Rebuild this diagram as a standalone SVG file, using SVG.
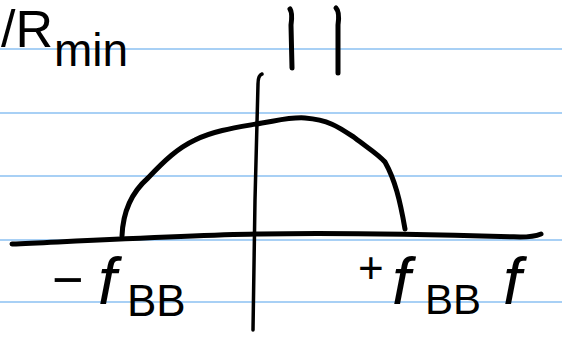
<svg xmlns="http://www.w3.org/2000/svg" width="562" height="342" viewBox="0 0 562 342">
<style>
.rule{stroke:#a8d0f5;stroke-width:2}
.ink{fill:none;stroke:#000;stroke-linecap:round;stroke-linejoin:round}
.t{font-family:"Liberation Sans",Arial,sans-serif;fill:#000}
.it{font-style:italic}
</style>
<rect width="562" height="342" fill="#fff"/>
<g id="ruled-lines">
<line class="rule" x1="0" y1="49" x2="562" y2="49"/>
<line class="rule" x1="0" y1="113" x2="562" y2="113"/>
<line class="rule" x1="0" y1="176" x2="562" y2="176"/>
<line class="rule" x1="0" y1="240" x2="562" y2="240"/>
<line class="rule" x1="0" y1="302" x2="562" y2="302"/>
</g>
<g id="connectors">
<path id="f-axis" class="ink" stroke-width="5" d="M12,244 C100,240 200,235 260,234 C350,232 450,235 520,237 C530,237 536,236 541,234"/>
<path id="y-axis" class="ink" stroke-width="3.5" d="M262,74 C259,75 258,78 258,84 L255,200 L253,330"/>
<path id="spectrum" class="ink" stroke-width="5" d="M122,236 C123,210 132,192 148,178 C165,160 178,148 195,140 C215,130 240,127 262,123 C280,120 292,117 305,118 C330,120 340,128 355,138 C368,148 378,154 385,162 C395,180 400,200 405,229"/>
</g>
<g id="abs-bars">
<path class="ink" stroke-width="5" d="M290,9 C292,12 292,18 291,25 L292,68"/>
<path class="ink" stroke-width="5" d="M336,8 C339,11 339,18 338,25 L338,73"/>
</g>
<g id="label-r">
<text class="t" x="1" y="47" font-size="52">/R</text>
<text class="t" x="54" y="66" font-size="46">min</text>
</g>
<g id="label-neg">
<text class="t" x="52" y="298" font-size="54">−</text>
<text class="t it" x="98" y="304" font-size="66">f</text>
<text class="t" x="127" y="316" font-size="44">BB</text>
</g>
<g id="label-pos">
<text class="t" x="358" y="283" font-size="44">+</text>
<text class="t it" x="392" y="304" font-size="66">f</text>
<text class="t" x="425" y="314" font-size="42">BB</text>
</g>
<g id="label-f">
<text class="t it" x="503" y="304" font-size="66">f</text>
</g>
</svg>
